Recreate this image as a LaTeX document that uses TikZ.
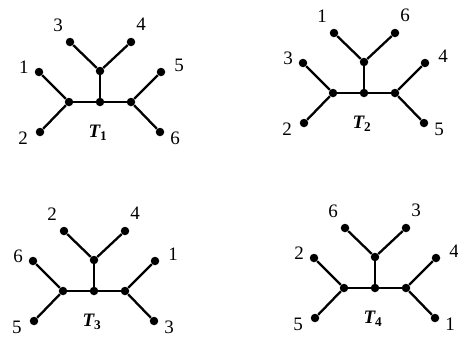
\documentclass[tikz,border=0pt]{standalone}
\usepackage{fontspec}
\setmainfont{Liberation Serif}
\tikzset{
  vertex/.style={circle,fill=black,inner sep=0pt,minimum size=8.5pt},
  branch/.style={line width=2.3pt},
  leaflabel/.style={font=\fontsize{19}{22}\selectfont,inner sep=0pt},
  treename/.style={font=\fontsize{19}{22}\selectfont\bfseries\itshape,inner sep=0pt}
}
\begin{document}
\begin{tikzpicture}[x=1pt,y=-1pt]
  \useasboundingbox (0,0) rectangle (458,346);
  \foreach \t/\cx/\cy/\lu/\ld/\tl/\tr/\ru/\rd in
    {1/100/102/1/2/3/4/5/6, 2/364/93/3/2/1/6/4/5,
     3/94/291/6/5/2/4/1/3, 4/375/288/2/5/6/3/4/1}{
    % inner vertices
    \node[vertex] (c\t) at (\cx,\cy){};
    \node[vertex] (l\t) at (\cx-31,\cy){};
    \node[vertex] (r\t) at (\cx+31,\cy){};
    \node[vertex] (u\t) at (\cx,\cy-31){};
    % leaves
    \node[vertex] (lu\t) at (\cx-61,\cy-30){};
    \node[vertex] (ld\t) at (\cx-60,\cy+30){};
    \node[vertex] (tl\t) at (\cx-30,\cy-60){};
    \node[vertex] (tr\t) at (\cx+31,\cy-60){};
    \node[vertex] (ru\t) at (\cx+61,\cy-30){};
    \node[vertex] (rd\t) at (\cx+60,\cy+30){};
    \draw[branch] (l\t) -- (c\t) -- (r\t);
    \draw[branch] (c\t) -- (u\t);
    \draw[branch] (lu\t) -- (l\t) -- (ld\t);
    \draw[branch] (tl\t) -- (u\t) -- (tr\t);
    \draw[branch] (ru\t) -- (r\t) -- (rd\t);
    % labels
    \node[leaflabel] (nlu\t) at (\cx-76,\cy-35){\lu};
    \node[leaflabel] (nld\t) at (\cx-77,\cy+36){\ld};
    \node[leaflabel] (ntl\t) at (\cx-42,\cy-77){\tl};
    \node[leaflabel] (ntr\t) at (\cx+41,\cy-78){\tr};
    \node[leaflabel] (nru\t) at (\cx+79,\cy-37){\ru};
    \node[leaflabel] (nrd\t) at (\cx+75,\cy+36){\rd};
    \node[treename] (name\t) at (\cx-2,\cy+31){T\textsubscript{\upshape\t}};
  }
\end{tikzpicture}
\end{document}
